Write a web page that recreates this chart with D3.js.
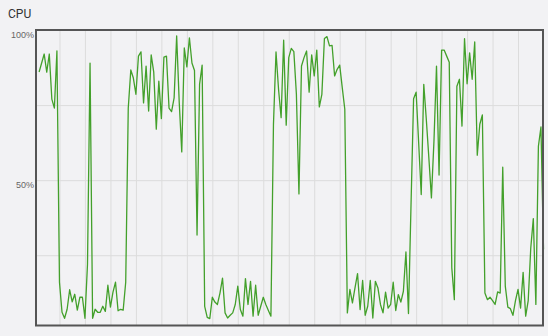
<!DOCTYPE html>
<html>
<head>
<meta charset="utf-8">
<script src="https://cdn.jsdelivr.net/npm/d3@7"></script>
<style>
	html, body { margin: 0; padding: 0; background: #f2f2f4; }
	svg { display: block; }
</style>
</head>
<body>
<div id="vis"></div>
<script>
const WIDTH = 548;
const HEIGHT = 336;

// sample slots 0..200, first two are empty
const firstSample = 2
const totalSlots = 200
const cpu = [
	86, 89, 92, 86, 92, 77, 74, 93, 16, 6,
	4, 7, 13.5, 9.5, 12, 6.7, 11, 11, 4, 22,
	89, 4, 7, 6, 6, 8, 6.3, 15, 7.7, 12.7,
	16, 6.5, 7, 6.7, 16, 74, 86.7, 84, 78.6, 91.3,
	92.7, 75.7, 88, 73, 91.7, 86, 67, 83, 70.5, 91,
	91.3, 74, 72.8, 77.4, 98, 76, 59.4, 94, 87.7, 97.4,
	89, 86.5, 31.7, 82, 88.3, 8, 4.3, 3.9, 11, 9.4,
	8.6, 12.4, 17.4, 5.8, 4.1, 5, 5.8, 8.6, 14.7, 6.9,
	4.7, 17.2, 8.6, 16.3, 4.7, 15, 5, 8, 11, 8.6,
	6.6, 4.7, 68.6, 92.7, 80.2, 70.8, 96.6, 68.3, 90.8, 93.9,
	92.8, 78.6, 45.4, 88, 90.8, 93, 79.3, 91.7, 84.7, 93.3,
	74.4, 78.6, 97.2, 97.8, 94.7, 94.9, 84.7, 86.9, 88.3, 80.8,
	73.6, 5.8, 13.6, 9.1, 14.1, 18.9, 6.9, 16.6, 5, 8,
	16.6, 4.1, 16.3, 14.1, 8.6, 5.8, 12.7, 7.4, 8.6, 16,
	6.6, 11.9, 9.4, 13, 26.1, 5.6, 42, 77.1, 79.3, 62.4,
	45.2, 81.9, 70.2, 57.4, 44.1, 63, 88, 51.7, 93.3, 93.3,
	91.3, 89.3, 20.8, 10.2, 81.3, 83.6, 68, 97.1, 82.1, 92.4,
	83.6, 96, 58.3, 68.6, 71.7, 12.4, 10.2, 11, 9.9, 8.6,
	12.8, 12.4, 54.3, 14.7, 7.7, 7.2, 5, 9.9, 13.6, 7.4,
	19.3, 4.7, 9.9, 27.4, 37.2, 8.6, 61.3, 67.7, 27
]
const gridValues = [25, 50, 75, 100]
const labelValues = [50, 100]
const xGridSlots = d3.range(10, totalSlots, 10)

const data = cpu.map((v, i) => ({ slot: firstSample + i, value: v }))

const xScale = d3.scaleLinear()
	.domain([0, totalSlots])
	.range([34, 543.5])

const yScale = d3.scaleLinear()
	.domain([0, 100])
	.range([330.3, 30])

const plot = { left: 36, right: 543, top: 30, bottom: 325.5 }

let svg = d3.select('#vis')
	.append('svg')
	.attr('width', WIDTH)
	.attr('height', HEIGHT)

svg.append('text')
	.attr('x', 8)
	.attr('y', 17.5)
	.text('CPU')
	.style('font-family', 'Roboto, "Liberation Sans", sans-serif')
	.style('font-size', '12px')
	.style('fill', '#333')

// vertical grid
svg.append('g')
	.attr('class', 'x-grid')
	.attr('transform', 'translate(0,' + plot.bottom + ')')
	.call(d3.axisBottom(xScale).tickValues(xGridSlots).tickSize(-(plot.bottom - plot.top)).tickFormat(''))
	.call(g => g.select('.domain').remove())
	.call(g => g.selectAll('.tick line').attr('stroke', '#dcdcdc'))

// horizontal grid
svg.append('g')
	.attr('class', 'y-grid')
	.attr('transform', 'translate(' + plot.left + ',0)')
	.call(d3.axisLeft(yScale).tickValues(gridValues).tickSize(-(plot.right - plot.left)).tickFormat(''))
	.call(g => g.select('.domain').remove())
	.call(g => g.selectAll('.tick line').attr('stroke', '#dcdcdc'))

// y labels
svg.append('g')
	.attr('class', 'y-axis')
	.attr('transform', 'translate(34,0)')
	.call(d3.axisLeft(yScale).tickValues(labelValues).tickSize(0).tickPadding(0).tickFormat(d => d + '%'))
	.call(g => g.select('.domain').remove())
	.call(g => g.selectAll('.tick text')
		.attr('dy', 7)
		.style('font-family', '"Liberation Sans", Arial, sans-serif')
		.style('font-size', '9px')
		.style('fill', '#666'))

let line = d3.line()
	.x(d => xScale(d.slot))
	.y(d => yScale(d.value))

svg.append('path')
	.datum(data)
	.attr('d', line)
	.attr('fill', 'none')
	.attr('stroke', '#43a02b')
	.attr('stroke-width', 1.3)
	.attr('stroke-linejoin', 'round')

// frame
svg.append('rect')
	.attr('x', plot.left)
	.attr('y', plot.top)
	.attr('width', plot.right - plot.left)
	.attr('height', plot.bottom - plot.top)
	.attr('fill', 'none')
	.attr('stroke', '#555')
	.attr('stroke-width', 2)
</script>
</body>
</html>
